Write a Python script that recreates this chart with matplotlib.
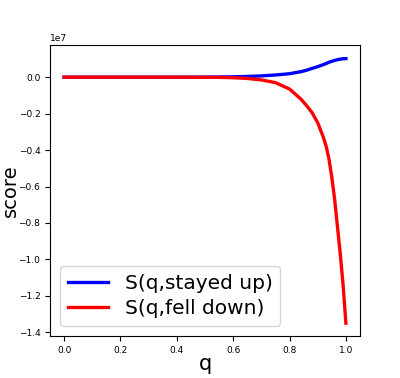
import matplotlib.pyplot as plt

plt.switch_backend('agg')

q = [0.0, 0.1, 0.2, 0.3, 0.4, 0.5, 0.55, 0.6, 0.65, 0.7, 0.75, 0.8, 0.84,
     0.86, 0.88, 0.9, 0.92, 0.93, 0.94, 0.95, 0.96, 0.97, 0.98, 0.99, 1.0]
# values in units of 1e6
stayed_up = [0, 0, 0, 0, 0, 0.005, 0.01, 0.02, 0.04, 0.07, 0.12, 0.19, 0.3,
             0.38, 0.48, 0.58, 0.69, 0.75, 0.82, 0.87, 0.92, 0.96, 0.99, 1.01, 1.02]
fell_down = [0, 0, 0, 0, 0, -0.005, -0.01, -0.03, -0.07, -0.15, -0.3, -0.65, -1.2,
             -1.55, -1.95, -2.5, -3.3, -3.8, -4.5, -5.5, -6.7, -8.2, -9.7, -11.4, -13.5]

fig = plt.figure(figsize=(4, 3.78), dpi=100)
ax = fig.add_subplot(111)
ax.plot(q, [v * 1e6 for v in stayed_up], color='blue', lw=2.4, label='S(q,stayed up)')
ax.plot(q, [v * 1e6 for v in fell_down], color='red', lw=2.4, label='S(q,fell down)')
ax.set_xlabel('q', fontsize=15, labelpad=-1)
ax.set_ylabel('score', fontsize=14)
ax.yaxis.set_label_coords(-0.098, 0.5)
ax.tick_params(labelsize=6.5)
ax.yaxis.get_offset_text().set_fontsize(6.5)
ax.legend(loc='lower left', fontsize=14.5, labelspacing=0.3)
fig.savefig('out.png')
